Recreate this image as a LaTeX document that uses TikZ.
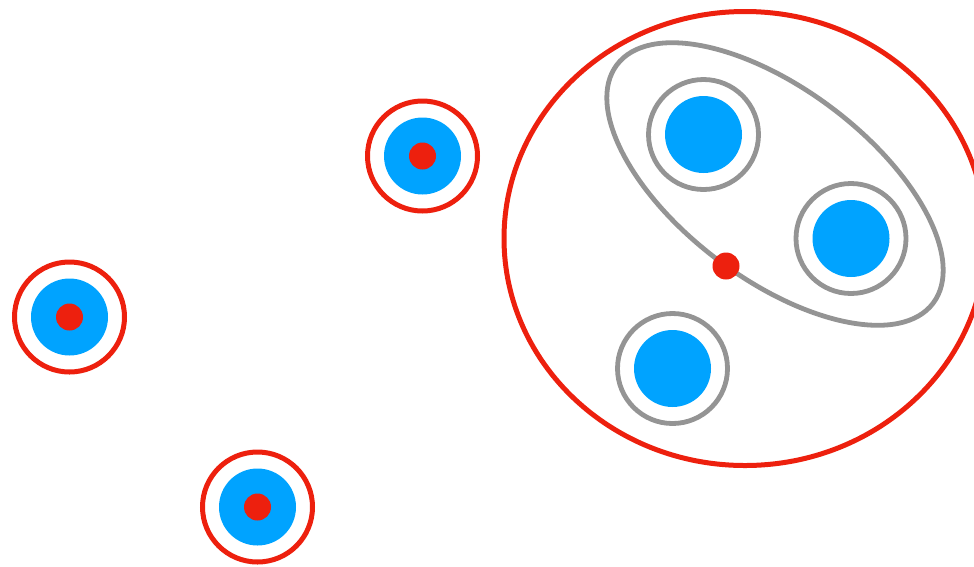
\documentclass[tikz,border=0pt]{standalone}
\definecolor{ringred}{RGB}{237,32,14}
\definecolor{dotblue}{RGB}{0,163,255}
\definecolor{ringgray}{RGB}{148,148,148}
\begin{document}
\begin{tikzpicture}[x=1pt,y=-1pt,
  redring/.style={circle,draw=ringred,line width=5pt,minimum size=110pt,inner sep=0pt},
  grayring/.style={circle,draw=ringgray,line width=4.8pt,minimum size=110pt,inner sep=0pt},
  bluedisk/.style={circle,fill=dotblue,minimum size=77pt,inner sep=0pt},
  reddot/.style={circle,fill=ringred,minimum size=27pt,inner sep=0pt}]
\useasboundingbox (0,0) rectangle (974,566);
% big group ellipse
\draw[ringred,line width=5pt] (745,238.5) ellipse [x radius=241,y radius=227];
\draw[ringgray,line width=4.8pt,rotate around={-37:(775,184)}] (775,184) ellipse [x radius=198,y radius=95];
% single points
\node[redring] (r1) at (422.5,156) {};
\node[bluedisk] (b1) at (422.5,156) {};
\node[reddot] (d1) at (422.5,156) {};
\node[redring] (r2) at (69.5,317) {};
\node[bluedisk] (b2) at (69.5,317) {};
\node[reddot] (d2) at (69.5,317) {};
\node[redring] (r3) at (257.5,507) {};
\node[bluedisk] (b3) at (257.5,507) {};
\node[reddot] (d3) at (257.5,507) {};
% gray rings in group
\node[grayring] (g1) at (703.5,134.5) {};
\node[bluedisk] (gb1) at (703.5,134.5) {};
\node[grayring] (g2) at (851,238.5) {};
\node[bluedisk] (gb2) at (851,238.5) {};
\node[grayring] (g3) at (672.5,368.5) {};
\node[bluedisk] (gb3) at (672.5,368.5) {};
\node[reddot] (c) at (726,266) {};
\end{tikzpicture}
\end{document}
